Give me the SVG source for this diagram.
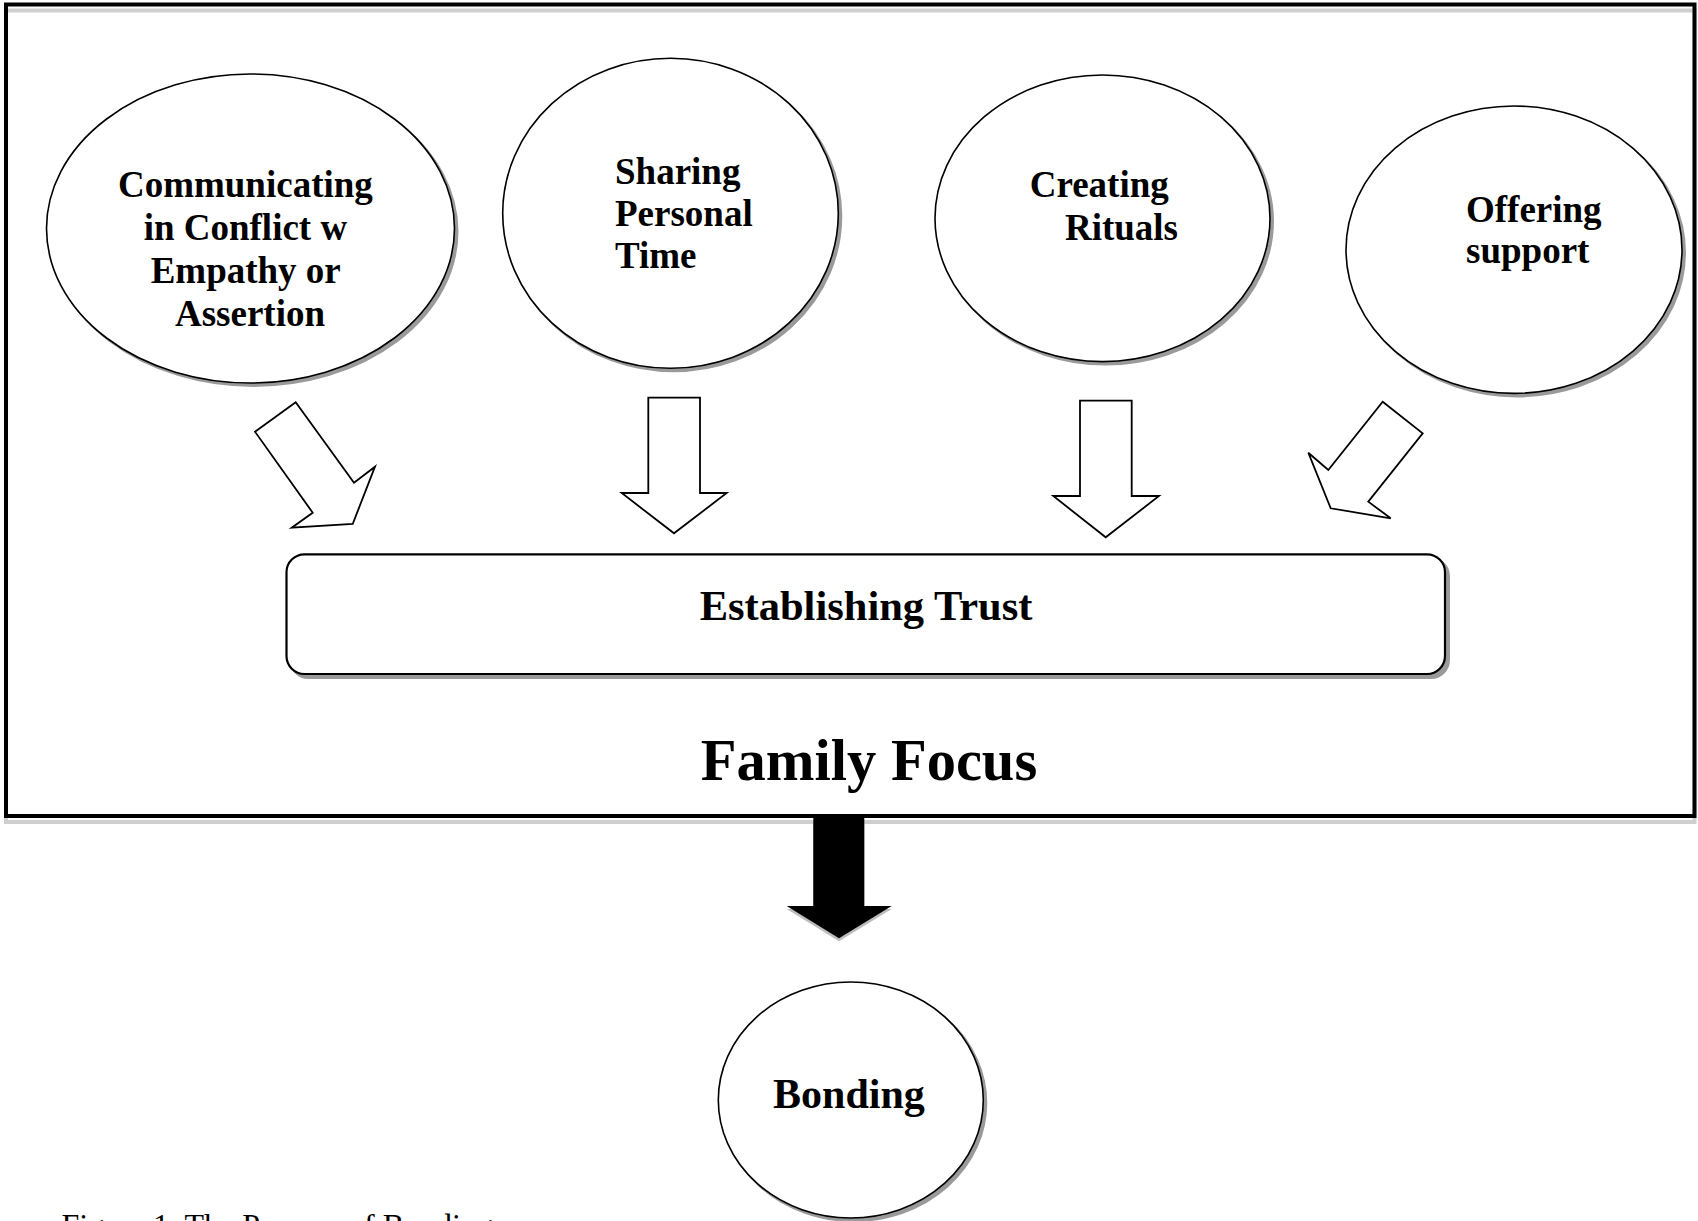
<svg xmlns="http://www.w3.org/2000/svg" width="1698" height="1221" viewBox="0 0 1698 1221">
<style>
.bg{fill:#ffffff}
.frame{fill:none;stroke:#000;stroke-width:4}
.frameshadow{fill:none;stroke:#cfcfcf;stroke-width:4}
.node{fill:#fff;stroke:#000;stroke-width:1.6}
.shadow{fill:#9a9a9a;stroke:#9a9a9a;stroke-width:2}
.box{fill:#fff;stroke:#000;stroke-width:2.2}
.hollow{fill:#fff;stroke:#000;stroke-width:1.8;stroke-linejoin:miter}
.solid{fill:#000;stroke:none}
.solidshadow{fill:#bdbdbd;stroke:none}
.t{font-family:"Liberation Serif","Times New Roman",serif;font-weight:bold;fill:#000}
.n{font-size:37px}
.cap{font-family:"Liberation Serif","Times New Roman",serif;font-size:32px;fill:#000}
</style>
<rect class="bg" x="0" y="0" width="1698" height="1221"/>

<g id="frame">
  <rect class="frameshadow" x="6" y="10.5" width="1688.5" height="811.5"/>
  <rect class="frame" x="6" y="4.5" width="1688.5" height="811.5"/>
  <text class="t" x="869" y="780" font-size="58.5" text-anchor="middle">Family Focus</text>
</g>

<g id="node-communicating">
  <ellipse class="shadow" cx="253.5" cy="231.5" rx="204" ry="154.5"/>
  <ellipse class="node" cx="250.5" cy="228.5" rx="204" ry="154.5"/>
  <text class="t n" text-anchor="middle">
    <tspan x="250" y="197">Communicating</tspan>
    <tspan x="250" y="240">in Conflict w</tspan>
    <tspan x="250" y="283">Empathy or</tspan>
    <tspan x="250" y="326">Assertion</tspan>
  </text>
</g>

<g id="node-sharing">
  <ellipse class="shadow" cx="673.5" cy="216.3" rx="167.8" ry="155"/>
  <ellipse class="node" cx="670.5" cy="213.3" rx="167.8" ry="155"/>
  <text class="t n">
    <tspan x="615" y="184">Sharing</tspan>
    <tspan x="615" y="226">Personal</tspan>
    <tspan x="615" y="268">Time</tspan>
  </text>
</g>

<g id="node-creating">
  <ellipse class="shadow" cx="1105.5" cy="221.3" rx="167.5" ry="143.3"/>
  <ellipse class="node" cx="1102.5" cy="218.3" rx="167.5" ry="143.3"/>
  <text class="t n" text-anchor="end">
    <tspan x="1178" y="197">Creating</tspan>
    <tspan x="1178" y="240">Rituals</tspan>
  </text>
</g>

<g id="node-offering">
  <ellipse class="shadow" cx="1517" cy="252.7" rx="168" ry="143.7"/>
  <ellipse class="node" cx="1514" cy="249.7" rx="168" ry="143.7"/>
  <text class="t n">
    <tspan x="1466" y="222">Offering</tspan>
    <tspan x="1466" y="263">support</tspan>
  </text>
</g>

<g id="node-trust">
  <rect class="shadow" x="290.5" y="558.3" width="1158.5" height="119.7" rx="18" ry="18"/>
  <rect class="box" x="286.5" y="554.3" width="1158.5" height="119.7" rx="18" ry="18"/>
  <text class="t" x="866" y="620" font-size="42.5" text-anchor="middle">Establishing Trust</text>
</g>

<g id="node-bonding">
  <ellipse class="shadow" cx="853.8" cy="1103" rx="132.5" ry="118"/>
  <ellipse class="node" cx="850.8" cy="1100" rx="132.5" ry="118"/>
  <text class="t" x="849" y="1108" font-size="42" text-anchor="middle">Bonding</text>
</g>

<g id="connectors">
  <polygon class="hollow" points="255,431.7 295.7,402.3 354,482.7 375,466.7 352.7,524 291.7,527.7 312.7,512.7"/>
  <polygon class="hollow" points="648.3,397.7 700,397.7 700,493 726.7,493 674,533.3 621.7,493 648.3,493"/>
  <polygon class="hollow" points="1080,400.7 1131.7,400.7 1131.7,496 1159,496 1105.7,537.3 1053.3,496 1080,496"/>
  <polygon class="hollow" points="1382.7,401.7 1422.7,433.3 1368.3,501.7 1390.7,518.3 1330.7,508.3 1308.3,452.7 1328.3,470"/>
  <polygon class="solidshadow" points="813.3,821 864.3,821 864.3,909 891.7,909 839,941.3 786.7,909 813.3,909"/>
  <polygon class="solid" points="813.3,818 864.3,818 864.3,906 891.7,906 839,938.3 786.7,906 813.3,906"/>
</g>

<g id="caption">
  <text class="cap" x="61.5" y="1236">Figure 1. The Process of Bonding</text>
</g>
</svg>
